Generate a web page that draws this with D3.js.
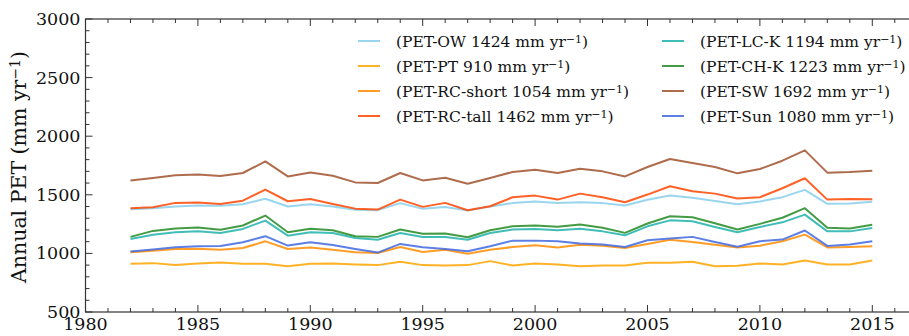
<!DOCTYPE html>
<html>
<head>
<meta charset="utf-8">
<script src="https://cdn.jsdelivr.net/npm/d3@7"></script>
<style>
  body { margin: 0; background: #fff; }
  svg { display: block; font-family: "DejaVu Serif", serif; }
</style>
</head>
<body>
<svg id="chart" width="909" height="336"></svg>
<script>
// years of record
const years = [1982, 1983, 1984, 1985, 1986, 1987, 1988, 1989, 1990, 1991, 1992, 1993,
  1994, 1995, 1996, 1997, 1998, 1999, 2000, 2001, 2002, 2003, 2004, 2005, 2006, 2007,
  2008, 2009, 2010, 2011, 2012, 2013, 2014, 2015];

// annual PET per method (mm/yr)
const petOW = [1377, 1386, 1400, 1409, 1406, 1420, 1466, 1400, 1420, 1400, 1372, 1369,
  1429, 1380, 1395, 1366, 1400, 1429, 1443, 1429, 1437, 1429, 1409, 1457, 1494, 1474,
  1448, 1420, 1443, 1480, 1542, 1423, 1426, 1440];
const petPT = [911, 917, 900, 914, 923, 911, 911, 891, 911, 914, 905, 900,
  928, 900, 897, 900, 934, 897, 914, 906, 891, 897, 897, 920, 920, 928,
  891, 894, 914, 906, 940, 906, 906, 940];
const petRCshort = [1009, 1023, 1037, 1040, 1032, 1046, 1103, 1037, 1051, 1032, 1009, 1003,
  1054, 1012, 1032, 997, 1032, 1054, 1069, 1051, 1074, 1066, 1046, 1080, 1117, 1097,
  1074, 1051, 1066, 1103, 1160, 1051, 1054, 1060];
const petRCtall = [1385, 1393, 1431, 1434, 1422, 1450, 1544, 1445, 1465, 1422, 1382, 1374,
  1459, 1397, 1431, 1368, 1402, 1479, 1493, 1459, 1510, 1479, 1436, 1502, 1573, 1530,
  1510, 1468, 1479, 1556, 1641, 1459, 1465, 1462];
const petLCK = [1123, 1160, 1180, 1188, 1174, 1209, 1280, 1151, 1180, 1174, 1131, 1117,
  1174, 1140, 1140, 1117, 1174, 1203, 1209, 1197, 1211, 1188, 1154, 1231, 1282, 1274,
  1225, 1180, 1225, 1265, 1331, 1188, 1188, 1217];
const petCHK = [1141, 1192, 1212, 1221, 1201, 1238, 1323, 1181, 1210, 1198, 1147, 1141,
  1204, 1167, 1170, 1138, 1198, 1232, 1238, 1227, 1246, 1218, 1175, 1255, 1317, 1309,
  1257, 1204, 1252, 1304, 1386, 1218, 1212, 1244];
const petSW = [1623, 1643, 1666, 1674, 1660, 1686, 1785, 1657, 1691, 1663, 1606, 1601,
  1686, 1623, 1646, 1595, 1643, 1695, 1714, 1686, 1723, 1700, 1657, 1737, 1806, 1772,
  1737, 1683, 1720, 1791, 1879, 1689, 1695, 1706];
const petSun = [1016, 1033, 1052, 1061, 1063, 1095, 1147, 1067, 1095, 1072, 1038, 1007,
  1081, 1052, 1038, 1018, 1061, 1109, 1109, 1104, 1084, 1075, 1055, 1112, 1127, 1141,
  1098, 1056, 1104, 1118, 1195, 1064, 1075, 1104];

const seriesNames = ['PET-OW', 'PET-PT', 'PET-RC-short', 'PET-RC-tall',
  'PET-LC-K', 'PET-CH-K', 'PET-SW', 'PET-Sun'];
const seriesMeans = [1424, 910, 1054, 1462, 1194, 1223, 1692, 1080];
const seriesColors = ['#87ceeb', '#ffa500', '#ff8c00', '#ff4500',
  '#20b2aa', '#228b22', '#a0522d', '#4169e1'];
const seriesValues = [petOW, petPT, petRCshort, petRCtall, petLCK, petCHK, petSW, petSun];

const xTicks = [1980, 1985, 1990, 1995, 2000, 2005, 2010, 2015];
const yTicks = [500, 1000, 1500, 2000, 2500, 3000];

const margin = {left: 85.5, top: 19, bottom: 312};
const svg = d3.select('#chart');

const x = d3.scaleLinear().domain([1980, 2017]).range([margin.left, margin.left + 37 * 22.48]);
const y = d3.scaleLinear().domain([500, 3000]).range([margin.bottom, margin.top]);

const plot = svg.append('g');

// lines
const line = d3.line()
  .x((d, i) => x(years[i]))
  .y(d => y(d));

seriesValues.forEach((vals, k) => {
  plot.append('path')
    .datum(vals)
    .attr('fill', 'none')
    .attr('stroke', seriesColors[k])
    .attr('stroke-opacity', 0.85)
    .attr('stroke-width', 2)
    .attr('stroke-linejoin', 'round')
    .attr('d', line);
});

// axes, ticks pointing inward
const axG = svg.append('g').attr('stroke', '#333').attr('fill', 'none');
const minorX = d3.range(1980, 2018);
const minorY = d3.range(500, 3001, 100);

function tickLines(g, vals, fn) {
  g.selectAll(null).data(vals).enter().append('line').each(fn);
}

// bottom & top
[margin.bottom, margin.top].forEach(base => {
  const dir = base === margin.bottom ? -1 : 1;
  tickLines(axG, minorX, function(d) {
    const len = xTicks.includes(d) ? 7 : 4;
    d3.select(this).attr('x1', x(d)).attr('x2', x(d))
      .attr('y1', base).attr('y2', base + dir * len);
  });
});
// left
tickLines(axG, minorY, function(d) {
  const len = yTicks.includes(d) ? 7 : 4;
  d3.select(this).attr('x1', margin.left).attr('x2', margin.left + len)
    .attr('y1', y(d)).attr('y2', y(d));
});

axG.append('rect')
  .attr('x', margin.left).attr('y', margin.top)
  .attr('width', x(2017) - margin.left).attr('height', margin.bottom - margin.top)
  .attr('stroke-width', 1.2);

// tick labels
svg.append('g').selectAll('text').data(xTicks).enter().append('text')
  .attr('x', d => x(d)).attr('y', margin.bottom + 18)
  .attr('text-anchor', 'middle')
  .attr('font-size', 17.5).attr('fill', '#111')
  .text(d => d);

svg.append('g').selectAll('text').data(yTicks).enter().append('text')
  .attr('x', margin.left - 5).attr('y', d => y(d) + 6)
  .attr('text-anchor', 'end')
  .attr('font-size', 17.5).attr('fill', '#111')
  .text(d => d);

// y label
const yl = svg.append('text')
  .attr('transform', 'translate(26,167) rotate(-90)')
  .attr('text-anchor', 'middle')
  .attr('font-size', 20.5).attr('fill', '#111');
yl.append('tspan').text('Annual PET (mm yr');
yl.append('tspan').attr('baseline-shift', '40%').attr('font-size', 14).text('\u22121');
yl.append('tspan').text(')');

// legend
const legend = svg.append('g');
seriesNames.forEach((name, k) => {
  const col = Math.floor(k / 4), row = k % 4;
  const lx = col === 0 ? 358 : 662;
  const ly = 41 + row * 25;
  legend.append('line')
    .attr('x1', lx).attr('x2', lx + 22).attr('y1', ly).attr('y2', ly)
    .attr('stroke', seriesColors[k]).attr('stroke-opacity', 0.85).attr('stroke-width', 2);
  const t = legend.append('text')
    .attr('x', lx + 38).attr('y', ly + 5.5)
    .attr('font-size', 15.5).attr('fill', '#111');
  t.append('tspan').text('(' + name + ' ' + seriesMeans[k] + ' mm yr');
  t.append('tspan').attr('baseline-shift', '40%').attr('font-size', 11).text('\u22121');
  t.append('tspan').text(')');
});
</script>
</body>
</html>
